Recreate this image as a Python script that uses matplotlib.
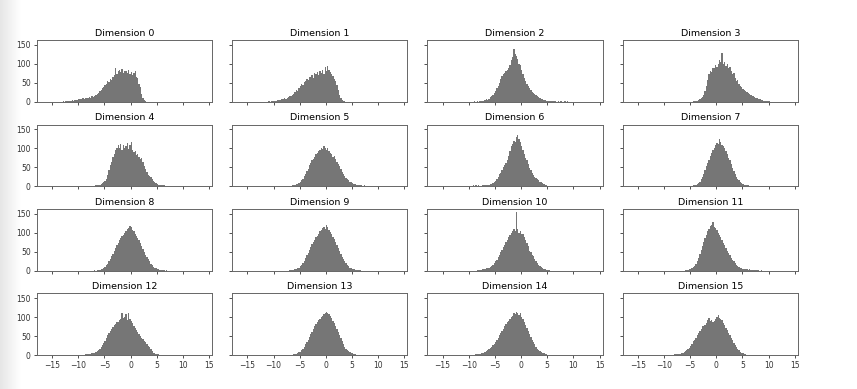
import numpy as np
import matplotlib
matplotlib.use("Agg")
import matplotlib.pyplot as plt

BIN_WIDTH = 0.25
titles = [f"Dimension {i}" for i in range(16)]
x_ticks = [-15, -10, -5, 0, 5, 10, 15]
y_ticks = [0, 50, 100, 150]

starts = [-13.0, -11.0, -9.0, -4.5, -7.5, -7.0, -9.5, -5.0,
          -7.0, -7.0, -8.5, -6.0, -10.0, -7.0, -10.0, -9.0]

dim0 = [1,0,2,1, 2,3,2,4, 3,4,5,4, 6,8,7,9, 8,10,9,11, 12,10,14,13, 16,18,20,22,
        27,30,35,40, 45,48,55,52, 60,58,65,70, 88,72,80,85, 78,86,75,82, 80,76,84,72,
        78,70,75,80, 65,62,48,40, 20,10,5,2]
dim1 = [1,0,1,2, 2,3,2,4, 5,4,7,6, 9,8,11,12, 14,16,18,20, 25,30,28,35, 42,48,45,52,
        55,60,58,64, 66,70,62,75, 72,78,70,80, 77,85,74,92, 80,95,85,78, 72,68,60,55,
        45,30,18,10, 5,2,1,0]
dim2 = [1,0,1,0, 2,1,3,2, 4,6,5,8, 12,15,18,22, 28,35,42,50, 60,68,72,75, 82,85,90,98,
        110,118,140,125, 120,112,100,98, 85,72,62,55, 48,42,35,30, 26,22,20,18,
        15,12,10,8, 6,5,4,3, 2,3,1,2, 1,1,2,0, 1,0,1,0, 0,1,0,1]
dim3 = [1,1,2,3, 4,6,9,12, 18,28,42,58, 72,80,78,90, 88,96,92,100, 110,105,130,100,
        104,95,100,88, 92,80,72,75, 62,55,58,48, 42,38,34,30, 28,25,22,20, 18,15,16,12,
        10,9,8,6, 5,4,3,3, 2,1,1,0]
dim4 = [1,0,1,2, 2,3,4,5, 8,10,14,20, 30,42,55,65, 78,85,95,100, 108,100,112,96,
        110,100,105,115, 98,108,118,95, 90,92,82,85, 78,72,75,65, 52,45,38,30,
        28,25,18,14, 12,8,6,4, 3,3,2,2, 1,1]
dim5 = [1,1,2,2, 3,5,6,9, 12,16,20,26, 32,40,46,55, 60,68,72,78, 85,88,92,95,
        100,98,105,102, 96,100,92,88, 85,78,80,72, 65,58,52,45, 38,32,28,22,
        18,15,12,10, 8,6,5,4, 3,3,2,2, 1,2,1,1, 1,0,1,0]
dim6 = [1,2,1,2, 1,2,1,1, 2,3,2,3, 3,4,5,6, 8,10,14,18, 25,32,35,42, 50,55,60,70,
        80,92,105,112, 120,118,130,135, 125,118,105,95, 85,75,68,58, 48,42,35,30,
        25,22,20,16, 12,10,8,5, 3,2,1,1]
dim7 = [1,1,2,3, 4,6,8,12, 18,25,32,42, 52,60,70,80, 88,95,100,108, 115,112,125,118,
        110,105,100,92, 85,75,68,58, 48,40,32,25, 20,15,11,8, 6,4,3,2, 2,1,1,1, 1,0,1,0]
dim8 = [1,0,1,2, 2,3,5,7, 10,14,18,24, 30,38,45,52, 60,68,74,80, 86,92,95,100,
        105,110,112,118, 115,108,104,98, 92,85,80,72, 64,56,50,42, 35,30,24,18,
        14,10,8,6, 4,3,2,2, 1,1,0,1]
dim9 = [1,1,1,2, 3,4,6,8, 11,15,20,26, 32,40,46,54, 62,70,76,82, 88,92,98,104,
        108,112,115,110, 120,114,108,102, 98,90,84,76, 68,60,52,44, 36,30,24,19,
        15,11,8,6, 5,3,2,2, 1,1,1,0]
dim10 = [1,1,2,2, 3,4,5,6, 7,8,10,12, 16,20,25,28, 35,42,48,55, 62,68,75,80,
         88,95,100,105, 110,105,155,110, 100,104,96,98, 88,80,72,64, 52,48,42,38,
         30,25,20,16, 12,9,7,5, 3,2,1,1]
dim11 = [1,1,2,3, 4,6,9,13, 18,25,34,44, 55,65,75,85, 95,105,110,118, 120,128,115,112,
         108,100,95,88, 80,74,68,60, 52,46,40,34, 28,24,20,16, 13,10,8,7, 5,4,4,3,
         2,3,2,1, 1,2,1,1, 1,0,1,0]
dim12 = [1,0,1,1, 1,2,2,2, 3,3,4,5, 6,8,10,12, 16,20,26,32, 38,45,52,58, 64,70,75,80,
         82,86,88,92, 95,110,98,100, 108,92,110,96, 90,85,78,72, 66,60,55,50,
         46,42,38,34, 28,24,20,15, 10,6,4,3, 2,2,1,1, 1,0,1,0]
dim13 = [1,1,1,2, 2,3,5,7, 9,12,16,22, 28,34,40,48, 56,62,70,76, 82,88,92,96,
         100,104,108,110, 115,112,108,102, 98,90,84,76, 68,60,52,44, 36,28,22,17,
         13,10,7,5, 4,3,2,1, 1,1,0,1]
dim14 = [1,0,1,1, 1,2,2,3, 3,4,5,6, 8,10,12,15, 18,22,26,30, 35,40,46,52, 58,64,70,76,
         82,86,90,96, 100,104,110,108, 115,112,105,110, 100,94,88,80, 72,64,56,48,
         40,34,28,22, 17,13,10,8, 6,4,3,2, 1,1,1,0]
dim15 = [1,1,0,1, 2,2,3,3, 3,4,5,7, 10,12,15,18, 24,30,36,40, 46,52,58,64, 70,76,78,80,
         84,92,98,90, 92,88,90,94, 100,105,98,96, 92,85,80,72, 65,58,52,45,
         40,33,26,22, 16,12,8,6, 4,3,2,1, 1,1]

counts = [dim0, dim1, dim2, dim3, dim4, dim5, dim6, dim7,
          dim8, dim9, dim10, dim11, dim12, dim13, dim14, dim15]

plt.rcParams['font.family'] = ['DejaVu Sans']
fig, axes = plt.subplots(4, 4, figsize=(8.57, 3.89), dpi=100, sharex=True, sharey=True)
fig.subplots_adjust(left=0.0432, right=0.931, top=0.897, bottom=0.0874,
                    wspace=0.114, hspace=0.37)

# soft grey shadow on the left edge (as in the screenshot)
shadow = fig.add_axes([0, 0, 0.024, 1], zorder=-5)
grad = np.linspace(0.90, 1.0, 50)[None, :]
shadow.imshow(grad, aspect='auto', cmap='gray', vmin=0, vmax=1, extent=[0, 1, 0, 1])
shadow.axis('off')

for i, ax in enumerate(axes.flat):
    c = np.asarray(counts[i], dtype=float)
    edges = starts[i] + BIN_WIDTH * np.arange(len(c) + 1)
    ax.hist(edges[:-1] + BIN_WIDTH / 2, bins=edges, weights=c,
            color='#767676', edgecolor='none')
    ax.set_title(titles[i], fontsize=6.8, pad=3)
    ax.set_xlim(-17.9, 15.6)
    ax.set_ylim(0, 163)
    ax.set_xticks(x_ticks)
    ax.set_yticks(y_ticks)
    ax.tick_params(labelsize=5.5, length=2.5, width=0.6, colors='#333333', pad=2)
    for s in ax.spines.values():
        s.set_color('#666666')
        s.set_linewidth(0.7)

fig.savefig("out.png", dpi=100, facecolor='white')
